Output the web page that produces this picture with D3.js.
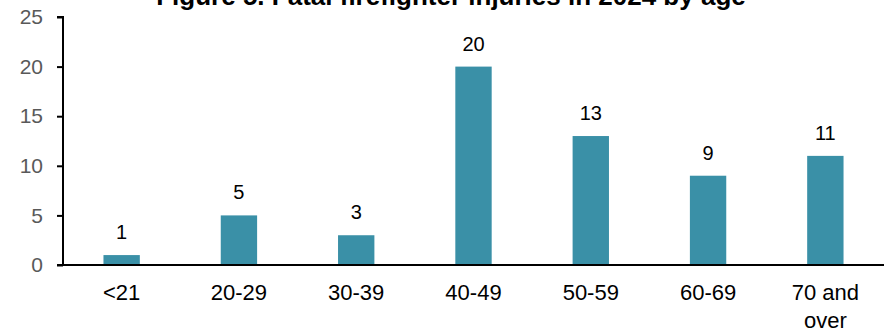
<!DOCTYPE html>
<html lang="en">
<head>
<meta charset="UTF-8">
<title>Fatal firefighter injuries by age</title>
<script src="https://cdn.jsdelivr.net/npm/d3@7"></script>
<style>
    body { margin: 0; background: #fff; }
    text { font-family: "Liberation Sans", Arial, sans-serif; }
</style>
</head>
<body>
<svg id="chart" width="892" height="332"></svg>
<script>
    var ages = ["<21", "20-29", "30-39", "40-49", "50-59", "60-69", "70 and over"];
    var deaths = [1, 5, 3, 20, 13, 9, 11];
    var yTicks = [0, 5, 10, 15, 20, 25];

    var svg = d3.select("#chart");
    // note: "top" is taken by window.top, so use plot* names
    var plotLeft = 63, plotRight = 884, plotTop = 17, plotBottom = 265;

    var x = d3.scaleBand().domain(ages).range([plotLeft, plotRight]).paddingInner(0.69).paddingOuter(0.345);
    var y = d3.scaleLinear().domain([0, 25]).range([plotBottom, plotTop]);

    // title, clipped at the top like the source
    svg.append("text")
        .attr("x", 451).attr("y", 5)
        .attr("text-anchor", "middle")
        .attr("font-size", 26).attr("font-weight", "bold")
        .text("Figure 5. Fatal firefighter injuries in 2024 by age");

    svg.selectAll("rect.bar")
        .data(deaths)
        .enter()
        .append("rect")
        .attr("class", "bar")
        .attr("x", function(d, i) { return x(ages[i]); })
        .attr("y", function(d) { return y(d); })
        .attr("width", x.bandwidth())
        .attr("height", function(d) { return plotBottom - y(d); })
        .attr("fill", "#3a90a7");

    svg.selectAll("text.val")
        .data(deaths)
        .enter()
        .append("text")
        .attr("class", "val")
        .attr("x", function(d, i) { return x(ages[i]) + x.bandwidth() / 2; })
        .attr("y", function(d) { return y(d) - 16; })
        .attr("text-anchor", "middle")
        .attr("font-size", 20)
        .attr("fill", "#000")
        .text(function(d) { return d; });

    var yAxis = svg.append("g")
        .attr("transform", "translate(" + plotLeft + ",0)")
        .call(d3.axisLeft(y).tickValues(yTicks).tickSize(6).tickPadding(14));
    yAxis.select(".domain").attr("stroke", "#000").attr("stroke-width", 2).attr("d", "M-6," + plotTop + "H0V" + plotBottom);
    yAxis.selectAll(".tick line").attr("stroke", "#000").attr("stroke-width", 2);
    yAxis.selectAll(".tick text").attr("font-size", 21).attr("fill", "#595959")
        .attr("font-family", "Liberation Sans, Arial, sans-serif");

    var xAxis = svg.append("g")
        .attr("transform", "translate(0," + plotBottom + ")")
        .call(d3.axisBottom(x).tickSize(0).tickPadding(19));
    xAxis.select(".domain").attr("stroke", "#000").attr("stroke-width", 2).attr("d", "M" + (plotLeft - 6) + ",0H" + plotRight);
    xAxis.selectAll(".tick text").attr("font-size", 22).attr("fill", "#000")
        .attr("font-family", "Liberation Sans, Arial, sans-serif")
        .each(function(d) {
            var t = d3.select(this);
            if (d === "70 and over") {
                t.text(null);
                t.append("tspan").attr("x", 0).attr("dy", "0.71em").text("70 and");
                t.append("tspan").attr("x", 0).attr("dy", "1.27em").text("over");
                t.attr("dy", null);
            }
        });
</script>
</body>
</html>
